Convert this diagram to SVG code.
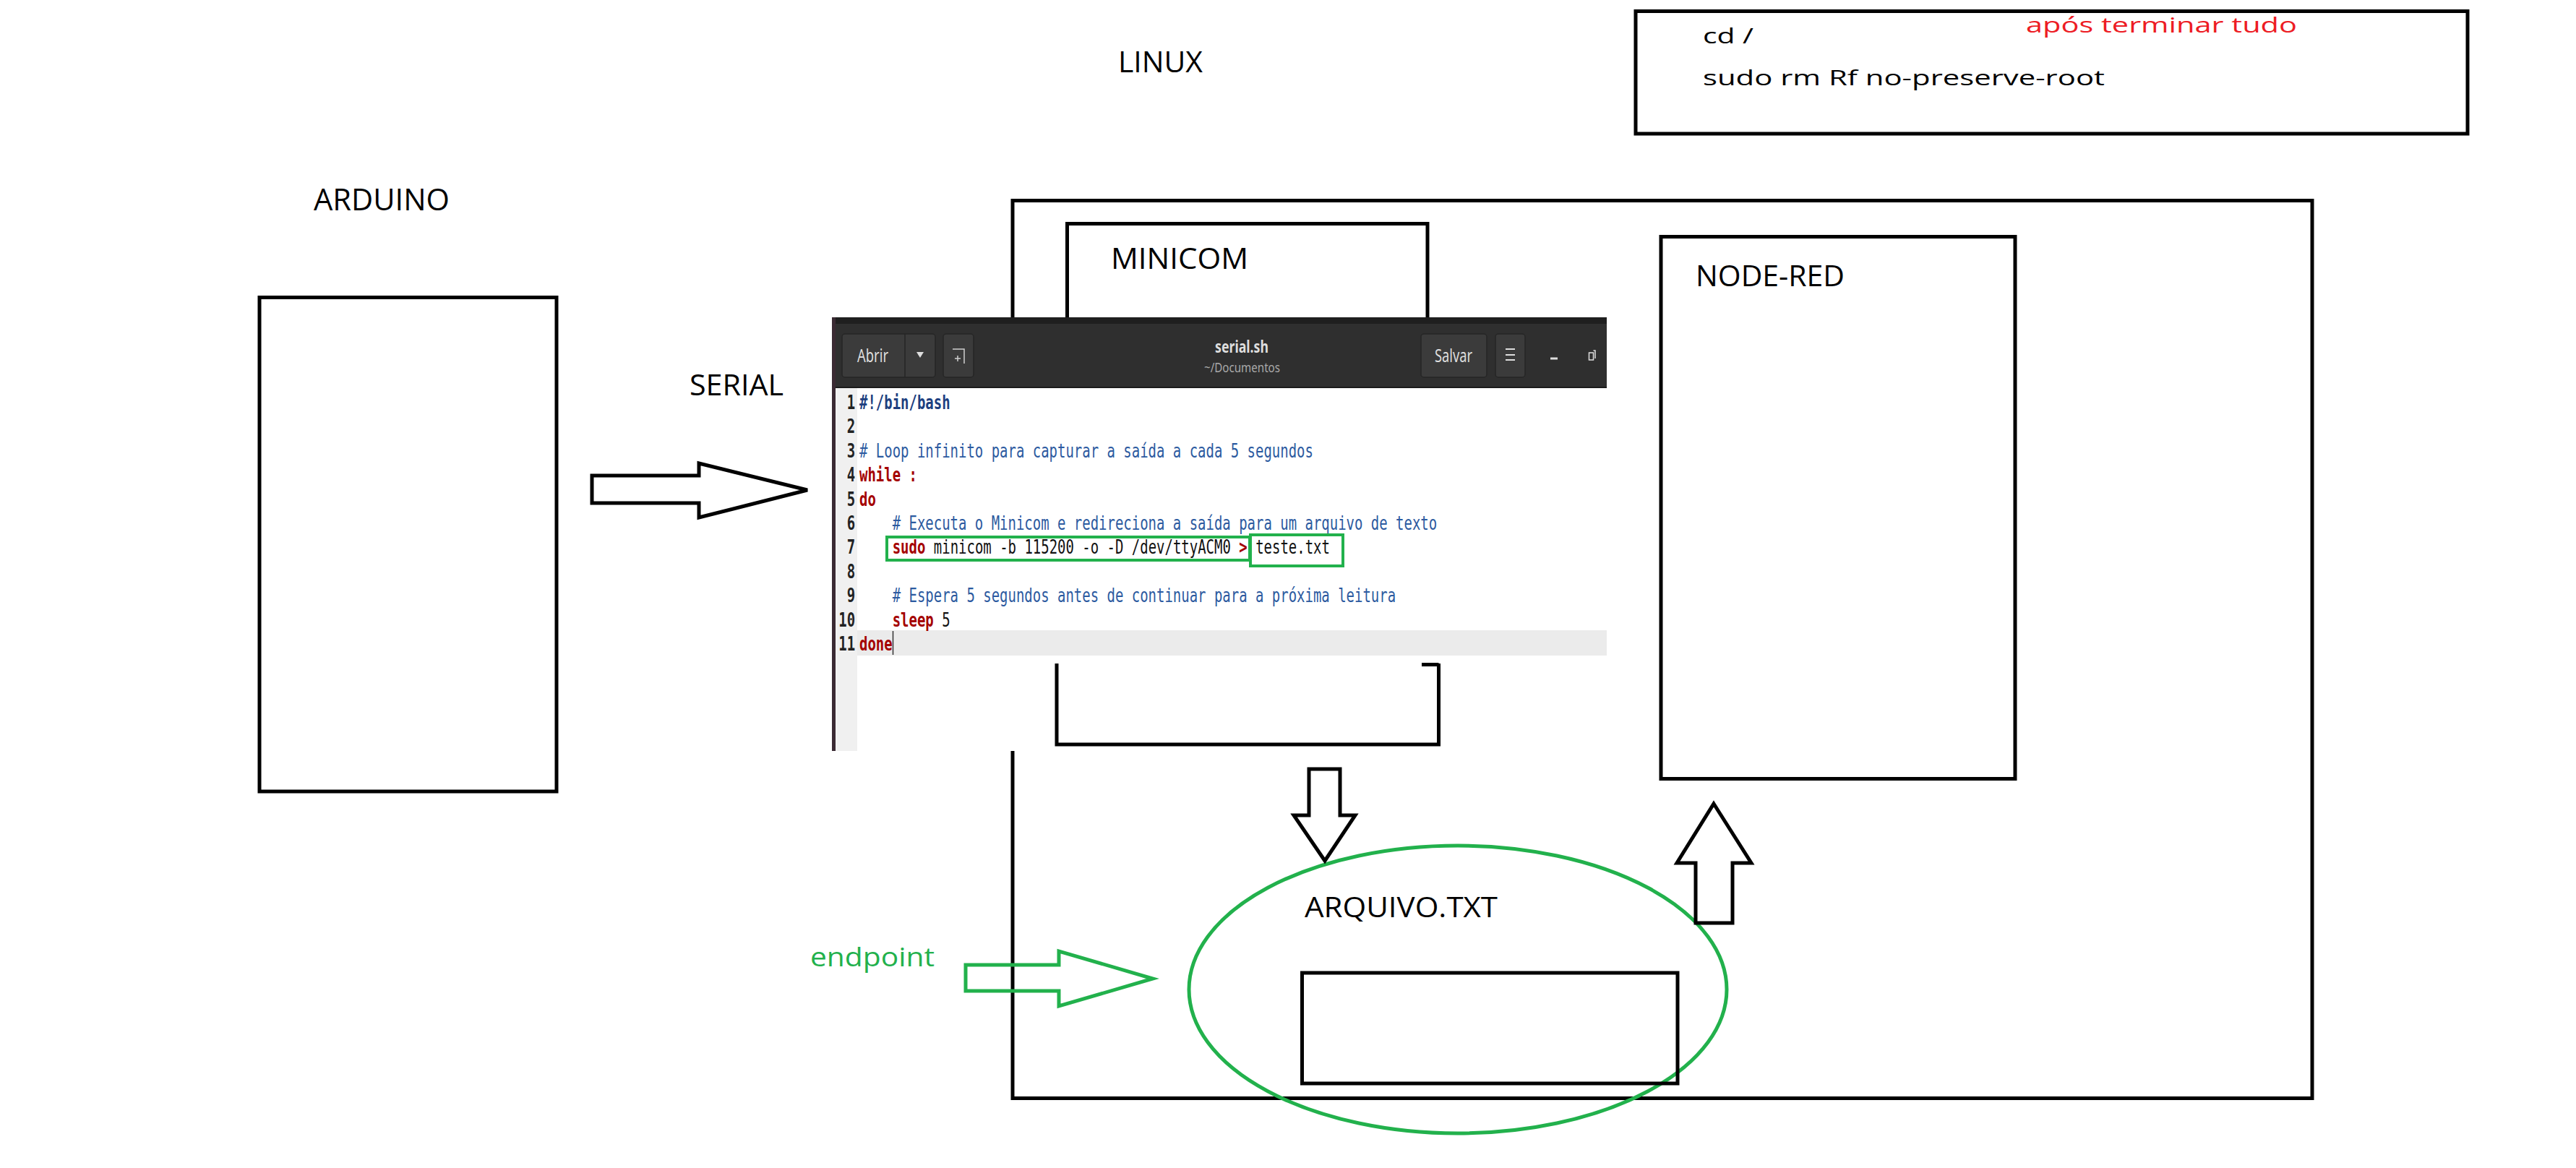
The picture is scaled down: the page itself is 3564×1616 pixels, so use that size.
<svg xmlns="http://www.w3.org/2000/svg" width="3564" height="1616" viewBox="0 0 3564 1616">
<style>
.box{fill:none;stroke:#000;stroke-width:5}
.arr{fill:none;stroke:#000;stroke-width:5;stroke-linejoin:miter}
.garr{fill:none;stroke:#22b14c;stroke-width:5}
.lbl{font-family:"Open Sans","Liberation Sans",sans-serif;fill:#000}
.code{font-family:"DejaVu Sans Mono","Liberation Mono",monospace;font-size:26px}
.sb{fill:#1d3f80;font-weight:bold}
.cm{fill:#2c5aa0}
.kw{fill:#a40000;font-weight:bold}
.tx{fill:#111}
.ln{fill:#222;font-weight:bold}
.btn{fill:#3b3b3b;stroke:#262626;stroke-width:1.5}
.ui{font-family:"Noto Sans","Open Sans",sans-serif;fill:#dedede}
.gbox{fill:none;stroke:#22b14c;stroke-width:4}
</style>
<rect width="3564" height="1616" fill="#fff"/>

<g id="linux">
<rect class="box" x="1401" y="277.5" width="1798" height="1242"/>
<text class="lbl" x="1547" y="100" font-size="40" textLength="117" lengthAdjust="spacingAndGlyphs">LINUX</text>
</g>

<g id="minicom">
<rect class="box" x="1476.5" y="309.5" width="498.5" height="200"/>
<text class="lbl" x="1537" y="372" font-size="40" textLength="190" lengthAdjust="spacingAndGlyphs">MINICOM</text>
</g>

<g id="arduino">
<rect class="box" x="359" y="411.5" width="411" height="683.5"/>
<text class="lbl" x="434" y="291" font-size="42" textLength="188" lengthAdjust="spacingAndGlyphs">ARDUINO</text>
</g>

<g id="serial-label">
<text class="lbl" x="954" y="547" font-size="40" textLength="130" lengthAdjust="spacingAndGlyphs">SERIAL</text>
</g>

<g id="node-red">
<rect class="box" x="2298" y="327.5" width="490" height="750"/>
<text class="lbl" x="2346" y="396" font-size="41" textLength="206" lengthAdjust="spacingAndGlyphs">NODE-RED</text>
</g>

<g id="editor">
<rect x="1151" y="439" width="1072" height="600" fill="#fff"/>
<rect x="1151" y="439" width="1072" height="98" fill="#2f2f2f"/>
<rect x="1151" y="439" width="1072" height="9" fill="#1f1f1f"/>
<rect x="1151" y="535" width="1072" height="2" fill="#1b1b1b"/>
<rect x="1156" y="537" width="30" height="502" fill="#f0f0f0"/>
<rect x="1186" y="872" width="1037" height="35" fill="#ebebeb"/>
<rect x="1151" y="439" width="5" height="600" fill="#3a2a33"/>
<rect class="btn" x="1165" y="462" width="129" height="60" rx="4"/>
<line x1="1252" y1="462" x2="1252" y2="522" stroke="#262626" stroke-width="1.5"/>
<text class="ui" x="1186" y="501" font-size="26" textLength="43" lengthAdjust="spacingAndGlyphs">Abrir</text>
<polygon points="1268,487 1278,487 1273,495" fill="#dedede"/>
<rect class="btn" x="1305" y="462" width="42" height="60" rx="4"/>
<path d="M1318,483 H1334 V503 M1321,496 H1329 M1325,492 V500" fill="none" stroke="#cfcfcf" stroke-width="1.5"/>
<text class="ui" x="1681" y="488" font-size="24" font-weight="bold" fill="#ececec" textLength="74" lengthAdjust="spacingAndGlyphs">serial.sh</text>
<text class="ui" x="1666" y="515" font-size="18" fill="#a9a9a9" style="fill:#a9a9a9" textLength="105" lengthAdjust="spacingAndGlyphs">~/Documentos</text>
<rect class="btn" x="1966" y="462" width="91" height="60" rx="4"/>
<text class="ui" x="1985" y="501" font-size="26" textLength="52" lengthAdjust="spacingAndGlyphs">Salvar</text>
<rect class="btn" x="2069" y="462" width="41" height="60" rx="4"/>
<path d="M2083,483 H2096 M2083,491 H2096 M2083,498 H2096" stroke="#dedede" stroke-width="2"/>
<line x1="2145" y1="496" x2="2155" y2="496" stroke="#dedede" stroke-width="3"/>
<path d="M2198.5,488 H2204.5 V498 H2198.5 Z M2204.5,485 H2207 V496" fill="none" stroke="#dedede" stroke-width="1.5"/>
<g class="code" transform="translate(1189 0) scale(0.7296 1)">
<g text-anchor="end" class="ln">
<text x="-8" y="566">1</text>
<text x="-8" y="599.4">2</text>
<text x="-8" y="632.8">3</text>
<text x="-8" y="666.2">4</text>
<text x="-8" y="699.6">5</text>
<text x="-8" y="733">6</text>
<text x="-8" y="766.4">7</text>
<text x="-8" y="799.8">8</text>
<text x="-8" y="833.2">9</text>
<text x="-8" y="866.6">10</text>
<text x="-8" y="900">11</text>
</g>
<text x="0" y="566" class="sb">#!/bin/bash</text>
<text x="0" y="632.8" class="cm"># Loop infinito para capturar a saída a cada 5 segundos</text>
<text x="0" y="666.2" class="kw">while :</text>
<text x="0" y="699.6" class="kw">do</text>
<text x="62.6" y="733" class="cm"># Executa o Minicom e redireciona a saída para um arquivo de texto</text>
<text y="766.4"><tspan x="62.6" class="kw">sudo</tspan><tspan x="140.9" class="tx">minicom -b 115200 -o -D /dev/ttyACM0</tspan><tspan x="720" class="kw">&gt;</tspan><tspan x="751.3" class="tx">teste.txt</tspan></text>
<text x="62.6" y="833.2" class="cm"># Espera 5 segundos antes de continuar para a próxima leitura</text>
<text y="866.6"><tspan x="62.6" class="kw">sleep</tspan><tspan x="156.5" class="tx">5</tspan></text>
<text x="0" y="900" class="kw">done</text>
</g>
<line x1="1235.5" y1="873" x2="1235.5" y2="906" stroke="#333" stroke-width="1.5"/>
<rect class="gbox" x="1227" y="743" width="502" height="32"/>
<rect class="gbox" x="1730" y="740" width="128" height="43"/>
</g>

<g id="minicom-lower">
<path class="box" d="M1462,918 V1030 H1990.5 V918 M1967,919.5 H1990.5"/>
</g>

<g id="arquivo">
<ellipse cx="2017" cy="1369" rx="372" ry="199" fill="none" stroke="#22b14c" stroke-width="5"/>
<rect class="box" x="1801.5" y="1346" width="519.5" height="153"/>
<text class="lbl" x="1805" y="1269" font-size="39" textLength="267" lengthAdjust="spacingAndGlyphs">ARQUIVO.TXT</text>
</g>

<g id="endpoint">
<text class="lbl" x="1121" y="1337" font-size="36" style="fill:#22b14c" textLength="172" lengthAdjust="spacingAndGlyphs">endpoint</text>
</g>

<g id="note">
<rect class="box" x="2263" y="15.5" width="1151" height="169.5"/>
<text class="lbl" x="2356" y="60" font-size="29" textLength="70" lengthAdjust="spacingAndGlyphs">cd /</text>
<text class="lbl" x="2356" y="118" font-size="30" textLength="556" lengthAdjust="spacingAndGlyphs">sudo rm Rf no-preserve-root</text>
<text class="lbl" x="2803" y="45" font-size="29" style="fill:#ed1c24" textLength="375" lengthAdjust="spacingAndGlyphs">após terminar tudo</text>
</g>

<g id="connectors">
<polygon class="arr" points="819,658 967,658 967,641 1117,678 967,716 967,696 819,696"/>
<polygon class="arr" points="1811,1064 1854,1064 1854,1128 1875,1128 1833,1191 1790,1128 1811,1128"/>
<polygon class="arr" points="2371,1112 2423,1194 2397,1194 2397,1277 2346,1277 2346,1194 2320,1194"/>
<polygon class="garr" points="1336,1335 1465,1335 1465,1316 1595,1354 1465,1392 1465,1371 1336,1371"/>
</g>
</svg>
